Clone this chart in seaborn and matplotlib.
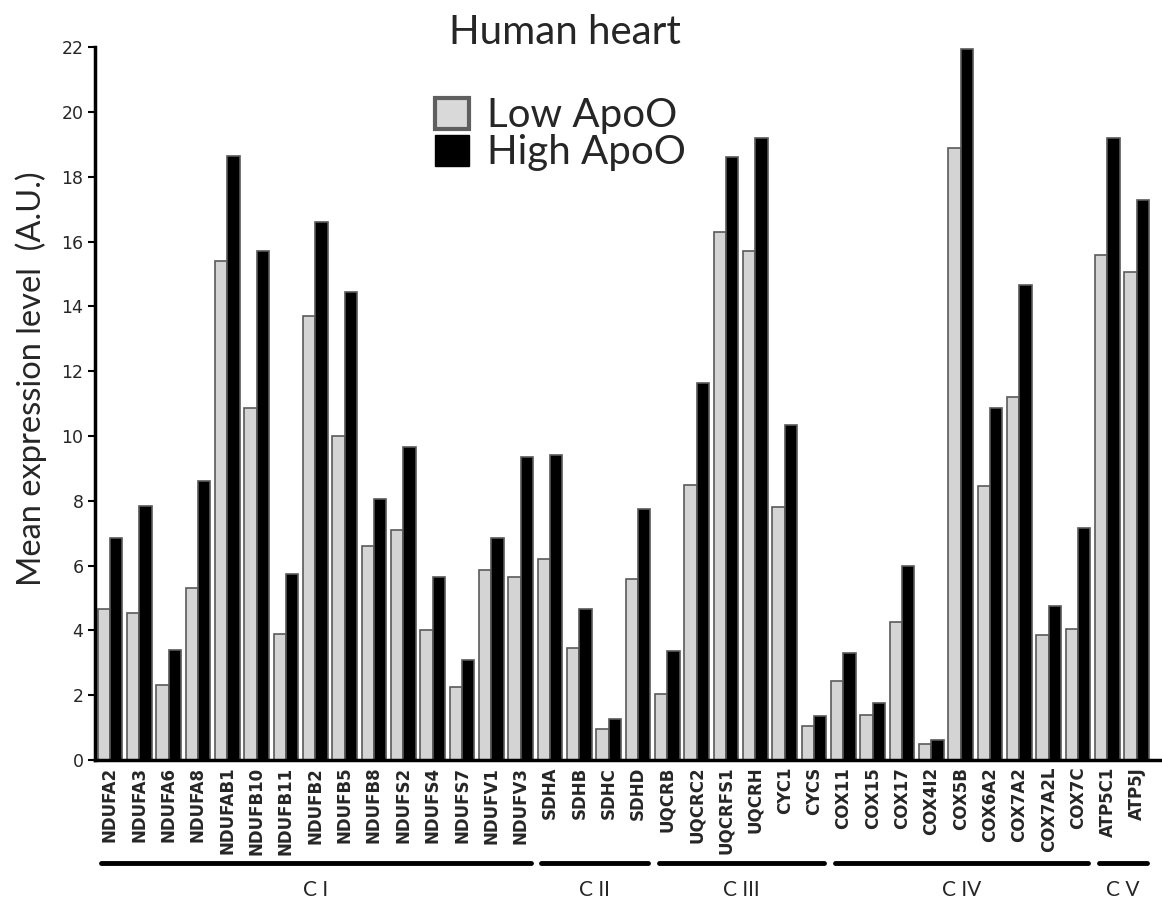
import matplotlib
matplotlib.use("Agg")
import matplotlib.pyplot as plt
from matplotlib.patches import Patch
import seaborn as sns
import pandas as pd

# === DATA
genes = ["NDUFA2", "NDUFA3", "NDUFA6", "NDUFA8", "NDUFAB1", "NDUFB10", "NDUFB11", "NDUFB2",
         "NDUFB5", "NDUFB8", "NDUFS2", "NDUFS4", "NDUFS7", "NDUFV1", "NDUFV3",
         "SDHA", "SDHB", "SDHC", "SDHD",
         "UQCRB", "UQCRC2", "UQCRFS1", "UQCRH", "CYC1", "CYCS",
         "COX11", "COX15", "COX17", "COX4I2", "COX5B", "COX6A2", "COX7A2", "COX7A2L", "COX7C",
         "ATP5C1", "ATP5J"]
low_apoo = [4.65, 4.55, 2.3, 5.3, 15.4, 10.85, 3.9, 13.7, 10.0, 6.6, 7.1, 4.0, 2.25, 5.85, 5.65,
            6.2, 3.45, 0.95, 5.6,
            2.05, 8.5, 16.3, 15.7, 7.8, 1.05,
            2.45, 1.4, 4.25, 0.5, 18.9, 8.45, 11.2, 3.85, 4.05,
            15.6, 15.05]
high_apoo = [6.85, 7.85, 3.4, 8.6, 18.65, 15.7, 5.75, 16.6, 14.45, 8.05, 9.65, 5.65, 3.1, 6.85, 9.35,
             9.4, 4.65, 1.25, 7.75,
             3.35, 11.65, 18.6, 19.2, 10.35, 1.35,
             3.3, 1.75, 6.0, 0.6, 21.95, 10.85, 14.65, 4.75, 7.15,
             19.2, 17.3]
complexes = ["C I", "C II", "C III", "C IV", "C V"]
complex_sizes = [15, 4, 6, 9, 2]
series = ["Low ApoO", "High ApoO"]

df = pd.DataFrame({
    "gene": genes * 2,
    "value": low_apoo + high_apoo,
    "group": [series[0]] * len(genes) + [series[1]] * len(genes),
})

# === Style
sns.set_style("ticks")
plt.rcParams["font.family"] = ["Lato", "DejaVu Sans"]

fig, ax = plt.subplots(figsize=(11.62, 9.09), dpi=100)
fig.subplots_adjust(left=0.082, right=0.998, bottom=0.164, top=0.948)

sns.barplot(data=df, x="gene", y="value", hue="group", hue_order=series,
            palette=["#d4d4d4", "#000000"], width=0.84, edgecolor="#5a5a5a",
            linewidth=1.2, saturation=1, ax=ax, legend=False)

ax.set_ylim(0, 22)
ax.set_xlim(-0.5, 35.78)
ax.set_yticks(range(0, 23, 2))
ax.tick_params(axis="y", labelsize=12.5, length=5, width=1.5, color="black")
for lbl in ax.get_yticklabels():
    lbl.set_family("DejaVu Sans")
ax.tick_params(axis="x", length=0, pad=5)
ax.set_xticks(range(len(genes)))
ax.set_xticklabels(genes, rotation=90, fontsize=12, fontweight="bold", family="DejaVu Sans")

sns.despine(ax=ax)
ax.spines["left"].set_linewidth(2.5)
ax.spines["bottom"].set_linewidth(2.5)
ax.spines["left"].set_color("black")
ax.spines["bottom"].set_color("black")

ax.set_xlabel("")
ax.set_ylabel("Mean expression level  (A.U.)", fontsize=23.5)
ax.yaxis.set_label_coords(-0.045, 0.535)

# === Complex grouping lines under the gene names
trans = ax.get_xaxis_transform()
start = 0
for name, size in zip(complexes, complex_sizes):
    x0 = start - 0.3
    x1 = start + size - 1 + 0.35
    ax.plot([x0, x1], [-0.145, -0.145], color="black", linewidth=3.5,
            solid_capstyle="round", transform=trans, clip_on=False)
    ax.text((x0 + x1) / 2, -0.183, name, transform=trans, ha="center", va="center",
            fontsize=15)
    start += size

# === Legend
handles = [Patch(facecolor="#d9d9d9", edgecolor="#5f5f5f", linewidth=3, label=series[0]),
           Patch(facecolor="#000000", edgecolor="#000000", linewidth=1, label=series[1])]
ax.legend(handles=handles, loc="center", bbox_to_anchor=(0.437, 0.878), frameon=False,
          fontsize=29, handlelength=0.85, handleheight=0.8, handletextpad=0.45,
          labelspacing=0.0, borderpad=0)

fig.suptitle("Human heart", x=0.486, y=0.985, va="top", fontsize=29)

fig.savefig("out.png", dpi=100)
